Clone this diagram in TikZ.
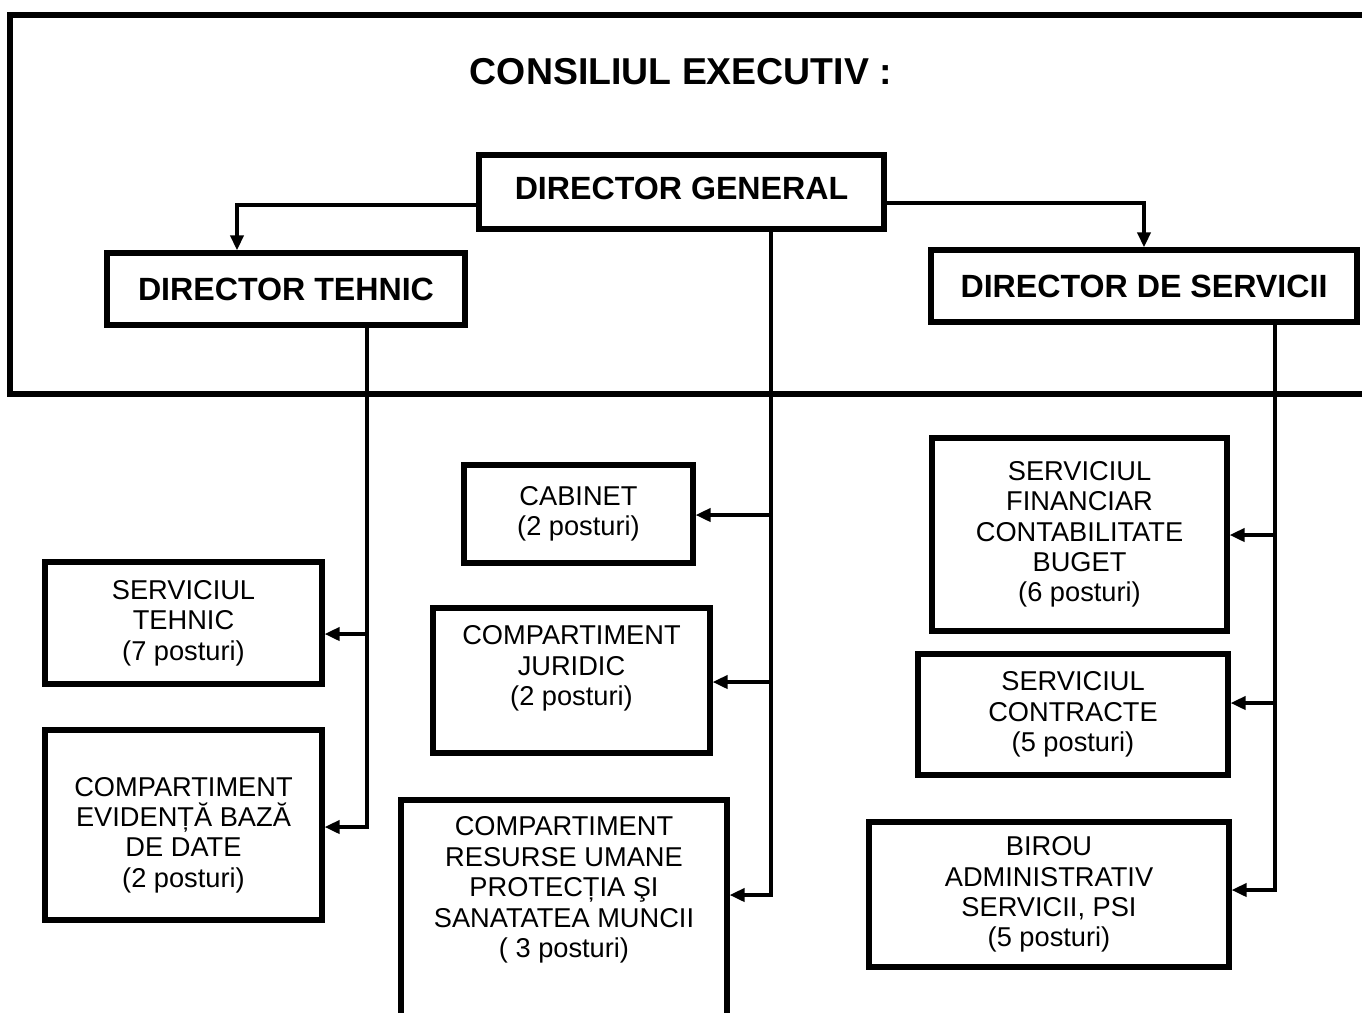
\documentclass[tikz,border=0pt]{standalone}
\usepackage{fontspec}
\setmainfont{Liberation Sans}
\usetikzlibrary{arrows.meta}
\tikzset{
  every picture/.style={x=0.02cm, y=-0.02cm},
  frame/.style={line width=3.4pt},
  chief/.style={draw, line width=3pt, inner sep=0pt, font=\bfseries\fontsize{18.3}{22}\selectfont},
  unit/.style={draw, line width=2.9pt, inner sep=0pt, align=center, font=\fontsize{15.5}{17.3}\selectfont},
  boxsize/.style 2 args={minimum width=#1*0.02cm, minimum height=#2*0.02cm},
  link/.style={line width=2.1pt},
  arrow/.style={link, -{Triangle[length=3mm, width=2.6mm]}},
}

\begin{document}
\begin{tikzpicture}
  \useasboundingbox (0,0) rectangle (1362,1012);
  % executive council frame, open to the right
  \draw[frame] (1380,15) -| (10,394) -- (1380,394);
  \node[font=\bfseries\fontsize{21.3}{25}\selectfont] (title) at (681,72) {CONSILIUL EXECUTIV :};

  % directors
  \node[chief, boxsize={405}{74}, text depth=4.5pt] (dg) at (681.5,192) {DIRECTOR GENERAL};
  \node[chief, boxsize={358}{72}] (dt) at (286,289) {DIRECTOR TEHNIC};
  \node[chief, boxsize={426}{72}] (ds) at (1144,286) {DIRECTOR DE SERVICII};

  % departments
  \node[unit, boxsize={277}{122}] (st) at (183.5,623) {SERVICIUL\\TEHNIC\\(7 posturi)};
  \node[unit, boxsize={277}{190}, text height=74pt] (ce) at (183.5,825) {COMPARTIMENT\\EVIDENȚĂ BAZĂ\\DE DATE\\(2 posturi)};
  \node[unit, boxsize={229}{98}] (cab) at (578.5,514) {CABINET\\(2 posturi)};
  \node[unit, boxsize={277}{145}, text depth=17pt] (jur) at (571.5,680.5) {COMPARTIMENT\\JURIDIC\\(2 posturi)};
  \node[unit, boxsize={326}{250}, text depth=43pt] (ru) at (564,925) {COMPARTIMENT\\RESURSE UMANE\\PROTECȚIA ŞI\\SANATATEA MUNCII\\( 3 posturi)};
  \node[unit, boxsize={295}{193}] (sf) at (1079.5,534.5) {SERVICIUL\\FINANCIAR\\CONTABILITATE\\BUGET\\(6 posturi)};
  \node[unit, boxsize={310}{121}] (sc) at (1073,714.5) {SERVICIUL\\CONTRACTE\\(5 posturi)};
  \node[unit, boxsize={360}{145}] (ba) at (1049,894.5) {BIROU\\ADMINISTRATIV\\SERVICII, PSI\\(5 posturi)};

  % general -> technical / services
  \coordinate (tl) at (237,205);
  \coordinate (tr) at (1143,203);
  \draw[arrow] (dg.west |- tl) -| (dt.north -| tl);
  \draw[arrow] (dg.east |- tr) -| (ds.north);

  % technical branch
  \coordinate (t1) at (367,634);
  \coordinate (t2) at (367,827);
  \draw[arrow] (dt.south -| t2) -- (t2) -- (t2 -| ce.east);
  \draw[arrow] (t1) -- (t1 -| st.east);

  % general branch
  \coordinate (g1) at (771,515);
  \coordinate (g2) at (771,682);
  \coordinate (g3) at (771,895);
  \draw[arrow] (dg.south -| g3) -- (g3) -- (g3 -| ru.east);
  \draw[arrow] (g1) -- (g1 -| cab.east);
  \draw[arrow] (g2) -- (g2 -| jur.east);

  % services branch
  \coordinate (s1) at (1275,535);
  \coordinate (s2) at (1275,703);
  \coordinate (s3) at (1275,890);
  \draw[arrow] (ds.south -| s3) -- (s3) -- (s3 -| ba.east);
  \draw[arrow] (s1) -- (s1 -| sf.east);
  \draw[arrow] (s2) -- (s2 -| sc.east);
\end{tikzpicture}
\end{document}
